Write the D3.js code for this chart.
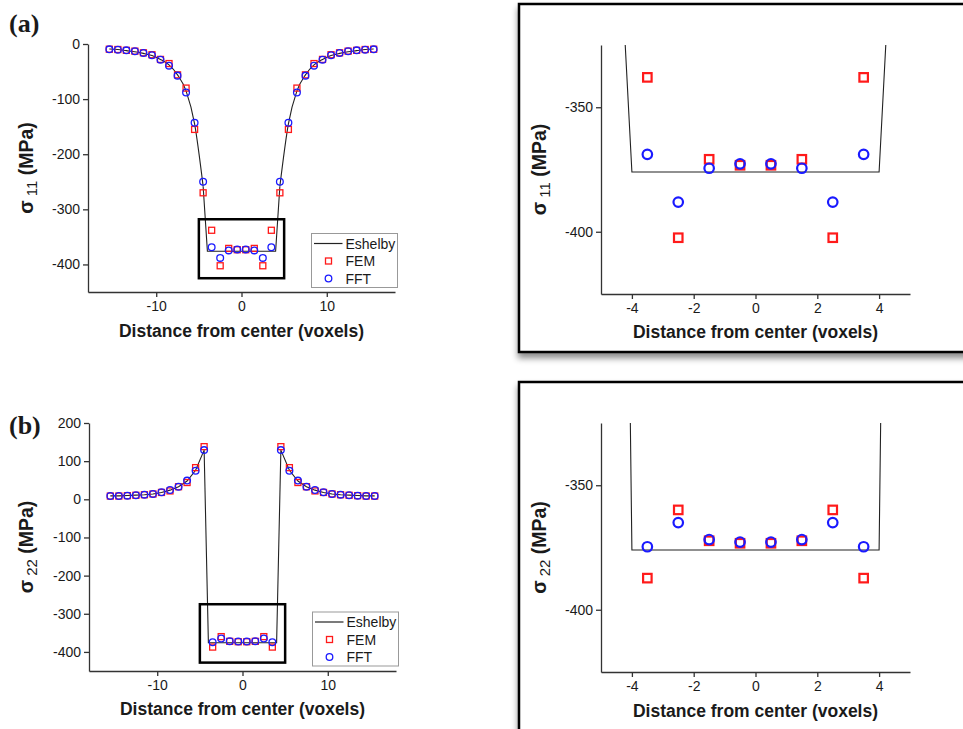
<!DOCTYPE html>
<html>
<head>
<meta charset="utf-8">
<script src="https://cdn.jsdelivr.net/npm/d3@7"></script>
<style>
  body { margin: 0; background: #fff; }
  svg { display: block; }
  text { font-family: "Liberation Sans", Arial, sans-serif; fill: #1a1a1a; }
</style>
</head>
<body>
<svg id="fig" width="963" height="729"></svg>
<script>
// --- sampling positions (voxel centres)
const positions = [-15.5, -14.5, -13.5, -12.5, -11.5, -10.5, -9.5, -8.5, -7.5, -6.5, -5.5, -4.5,
  -3.5, -2.5, -1.5, -0.5, 0.5, 1.5, 2.5, 3.5,
  4.5, 5.5, 6.5, 7.5, 8.5, 9.5, 10.5, 11.5, 12.5, 13.5, 14.5, 15.5];
const eshelbyPos = [-15.5, -14.5, -13.5, -12.5, -11.5, -10.5, -9.5, -8.5, -7.5, -6.5, -5.5, -4.5, -4,
  4, 4.5, 5.5, 6.5, 7.5, 8.5, 9.5, 10.5, 11.5, 12.5, 13.5, 14.5, 15.5];

// --- sigma 11
const s11Fem = [-9.5, -10, -11.5, -13, -16, -19.5, -28, -35.5, -56, -80, -155, -270,
  -338, -402.4, -370.9, -373.3, -373.3, -370.9, -402.4, -338,
  -270, -155, -80, -56, -35.5, -28, -19.5, -16, -13, -11.5, -10, -9.5];
const s11Fft = [-9.7, -10.3, -11.5, -13.3, -16.3, -20.5, -28.4, -39.3, -57.4, -88, -143, -250,
  -368.9, -388.1, -374.5, -372.7, -372.7, -374.5, -388.1, -368.9,
  -250, -143, -88, -57.4, -39.3, -28.4, -20.5, -16.3, -13.3, -11.5, -10.3, -9.7];
const s11Eshelby = [-9, -10, -12, -14, -17, -21, -28, -38, -56, -85, -145, -258, -376,
  -376, -258, -145, -85, -56, -38, -28, -21, -17, -14, -12, -10, -9];

// --- sigma 22
const s22Fem = [8.5, 8.5, 9.5, 10.5, 12, 14, 18, 22, 33, 44, 83, 138,
  -387.3, -359.9, -372.3, -373.3, -373.3, -372.3, -359.9, -387.3,
  138, 83, 44, 33, 22, 18, 14, 12, 10.5, 9.5, 8.5, 8.5];
const s22Fft = [8.7, 8.7, 9.6, 10.5, 12.2, 14, 18.3, 24.4, 33, 49, 75, 129,
  -374.7, -365, -371.8, -372.8, -372.8, -371.8, -365, -374.7,
  129, 75, 49, 33, 24.4, 18.3, 14, 12.2, 10.5, 9.6, 8.7, 8.7];
const s22Eshelby = [9, 9, 10, 11, 12, 14, 18, 24, 33, 48, 76, 129, -376,
  -376, 129, 76, 48, 33, 24, 18, 14, 12, 11, 10, 9, 9];

// --- axes
const mainXTicks = [-10, 0, 10];
const s11Ticks = [0, -100, -200, -300, -400];
const s22Ticks = [200, 100, 0, -100, -200, -300, -400];
const insetXTicks = [-4, -2, 0, 2, 4];
const insetYTicks = [-350, -400];
const legendLabels = ["Eshelby", "FEM", "FFT"];

const RED = "#ff1a1a", BLUE = "#1a1aff";
const svg = d3.select("#fig");
const fmt = d => String(d);   // trait d'union simple, comme l'original

// ombre portée des encadrés
const defs = svg.append("defs");
defs.append("filter").attr("id", "shadow")
  .attr("x", "-10%").attr("y", "-10%").attr("width", "130%").attr("height", "130%")
  .append("feDropShadow")
  .attr("dx", 0).attr("dy", 5).attr("stdDeviation", 3)
  .attr("flood-color", "#000").attr("flood-opacity", 0.45);

function series(fem, fft, esh) {
  return {
    fem: positions.map((x, i) => ({ x, y: fem[i] })),
    fft: positions.map((x, i) => ({ x, y: fft[i] })),
    esh: eshelbyPos.map((x, i) => ({ x, y: esh[i] }))
  };
}

function axes(g, x, y, xTicks, yTicks) {
  const ax = g.append("g").attr("transform", `translate(0,${y.range()[0]})`)
    .call(d3.axisBottom(x).tickValues(xTicks).tickFormat(fmt).tickSize(5).tickSizeOuter(0).tickPadding(4));
  const ay = g.append("g").attr("transform", `translate(${x.range()[0]},0)`)
    .call(d3.axisLeft(y).tickValues(yTicks).tickFormat(fmt).tickSize(5).tickSizeOuter(0).tickPadding(3));
  [ax, ay].forEach(a => {
    a.selectAll("path, line").attr("stroke", "#333").attr("stroke-width", 1.3);
    a.selectAll("text").attr("font-size", 14).attr("fill", "#1a1a1a")
      .attr("font-family", '"Liberation Sans", Arial, sans-serif');
  });
}

function yLabel(g, cx, cy, sub) {
  const t = g.append("text")
    .attr("transform", `translate(${cx},${cy}) rotate(-90)`)
    .attr("text-anchor", "middle")
    .attr("font-size", 19.5).attr("font-weight", "bold");
  t.append("tspan").text("σ");
  t.append("tspan").attr("font-size", 15).attr("font-weight", "normal").attr("dy", 4).text(" " + sub);
  t.append("tspan").attr("dy", -4).text(" (MPa)");
}

function xLabel(g, cx, by) {
  g.append("text").attr("x", cx).attr("y", by)
    .attr("text-anchor", "middle").attr("font-size", 17.5).attr("font-weight", "bold")
    .text("Distance from center (voxels)");
}

function markers(g, x, y, data, size, sw) {
  g.append("g").selectAll("rect").data(data.fem).join("rect")
    .attr("x", d => x(d.x) - size / 2).attr("y", d => y(d.y) - size / 2)
    .attr("width", size).attr("height", size)
    .attr("fill", "none").attr("stroke", RED).attr("stroke-width", sw);
  g.append("g").selectAll("circle").data(data.fft).join("circle")
    .attr("cx", d => x(d.x)).attr("cy", d => y(d.y)).attr("r", size * 0.56)
    .attr("fill", "none").attr("stroke", BLUE).attr("stroke-width", sw);
}

function eshelbyLine(g, x, y, data, smooth) {
  const lin = d3.line().x(d => x(d.x)).y(d => y(d.y));
  const mono = d3.line().x(d => x(d.x)).y(d => y(d.y)).curve(d3.curveMonotoneX);
  const parts = smooth
    ? [[data.esh.filter(d => d.x <= -4.5), mono],
       [data.esh.filter(d => Math.abs(d.x) <= 4.5), lin],
       [data.esh.filter(d => d.x >= 4.5), mono]]
    : [[data.esh, lin]];
  parts.forEach(([pts, gen]) => {
    g.append("path").attr("d", gen(pts))
      .attr("fill", "none").attr("stroke", "#222").attr("stroke-width", 1.1);
  });
}

function mainPanel(p) {
  const x = d3.scaleLinear().domain([-18, 18]).range([p.left, p.right]);
  const y = d3.scaleLinear().domain(p.yDomain).range([p.bottom, p.top]);
  const g = svg.append("g");
  axes(g, x, y, mainXTicks, p.yTicks);
  eshelbyLine(g, x, y, p.data, p.smooth);
  markers(g, x, y, p.data, 6, 1.3);

  // cadre de zoom
  g.append("rect")
    .attr("x", x(p.box[0])).attr("y", y(p.box[2]))
    .attr("width", x(p.box[1]) - x(p.box[0])).attr("height", y(p.box[3]) - y(p.box[2]))
    .attr("fill", "none").attr("stroke", "#000").attr("stroke-width", 2.5);

  // légende
  const L = p.legend;
  const lg = g.append("g");
  lg.append("rect").attr("x", L.x).attr("y", L.y).attr("width", 86).attr("height", 54)
    .attr("fill", "#fff").attr("stroke", "#999").attr("stroke-width", 1);
  const rows = [L.y + 10, L.y + 27.5, L.y + 45];
  lg.append("line").attr("x1", L.x + 2.5).attr("x2", L.x + 31).attr("y1", rows[0]).attr("y2", rows[0])
    .attr("stroke", "#222").attr("stroke-width", 1.2);
  lg.append("rect").attr("x", L.x + 14).attr("y", rows[1] - 3).attr("width", 6).attr("height", 6)
    .attr("fill", "none").attr("stroke", RED).attr("stroke-width", 1.3);
  lg.append("circle").attr("cx", L.x + 17).attr("cy", rows[2]).attr("r", 3.3)
    .attr("fill", "none").attr("stroke", BLUE).attr("stroke-width", 1.3);
  legendLabels.forEach((t, i) => {
    lg.append("text").attr("x", L.x + 34).attr("y", rows[i] + 5).attr("font-size", 14).text(t);
  });

  yLabel(g, 33, (p.top + p.bottom) / 2, p.sub);
  xLabel(g, (p.left + p.right) / 2, p.xLabelY);
  g.append("text").attr("x", 9).attr("y", p.tagY)
    .attr("font-size", 26).attr("font-weight", "bold")
    .style("font-family", '"Liberation Serif", "Times New Roman", serif')
    .text(p.tag);
}

function insetPanel(p, id) {
  const g = svg.append("g");
  g.append("rect").attr("x", 519).attr("y", p.frameTop).attr("width", 470).attr("height", p.frameH)
    .attr("fill", "#fff").attr("stroke", "#000").attr("stroke-width", 2.5)
    .attr("filter", "url(#shadow)");

  const x = d3.scaleLinear().domain([-5, 5]).range([601, 910]);
  const y = d3.scaleLinear().domain([-425, -325]).range([p.bottom, p.top]);
  defs.append("clipPath").attr("id", id).append("rect")
    .attr("x", 601).attr("y", p.top).attr("width", 309).attr("height", p.bottom - p.top);

  axes(g, x, y, insetXTicks, insetYTicks);
  const c = g.append("g").attr("clip-path", `url(#${id})`);
  eshelbyLine(c, x, y, p.data, p.smooth);
  markers(c, x, y, p.data, 8.5, 2.2);

  yLabel(g, 546, (p.top + p.bottom) / 2, p.sub);
  xLabel(g, 755.5, p.xLabelY);
}

const dataA = series(s11Fem, s11Fft, s11Eshelby);
const dataB = series(s22Fem, s22Fft, s22Eshelby);

mainPanel({ data: dataA, smooth: true, left: 88, right: 395, top: 44, bottom: 292,
  yDomain: [-450, 0], yTicks: s11Ticks, sub: "11", box: [-5, 5, -318, -425],
  legend: { x: 311.5, y: 233.5 }, xLabelY: 337, tag: "(a)", tagY: 32 });
mainPanel({ data: dataB, smooth: false, left: 89, right: 396, top: 423, bottom: 671,
  yDomain: [-450, 200], yTicks: s22Ticks, sub: "22", box: [-5, 5, -275, -428],
  legend: { x: 312.5, y: 612 }, xLabelY: 715, tag: "(b)", tagY: 434 });

insetPanel({ data: dataA, smooth: true, top: 45, bottom: 294, frameTop: 4, frameH: 348,
  sub: "11", xLabelY: 338 }, "clipA");
insetPanel({ data: dataB, smooth: false, top: 423, bottom: 672, frameTop: 382, frameH: 380,
  sub: "22", xLabelY: 717 }, "clipB");
</script>
</body>
</html>
